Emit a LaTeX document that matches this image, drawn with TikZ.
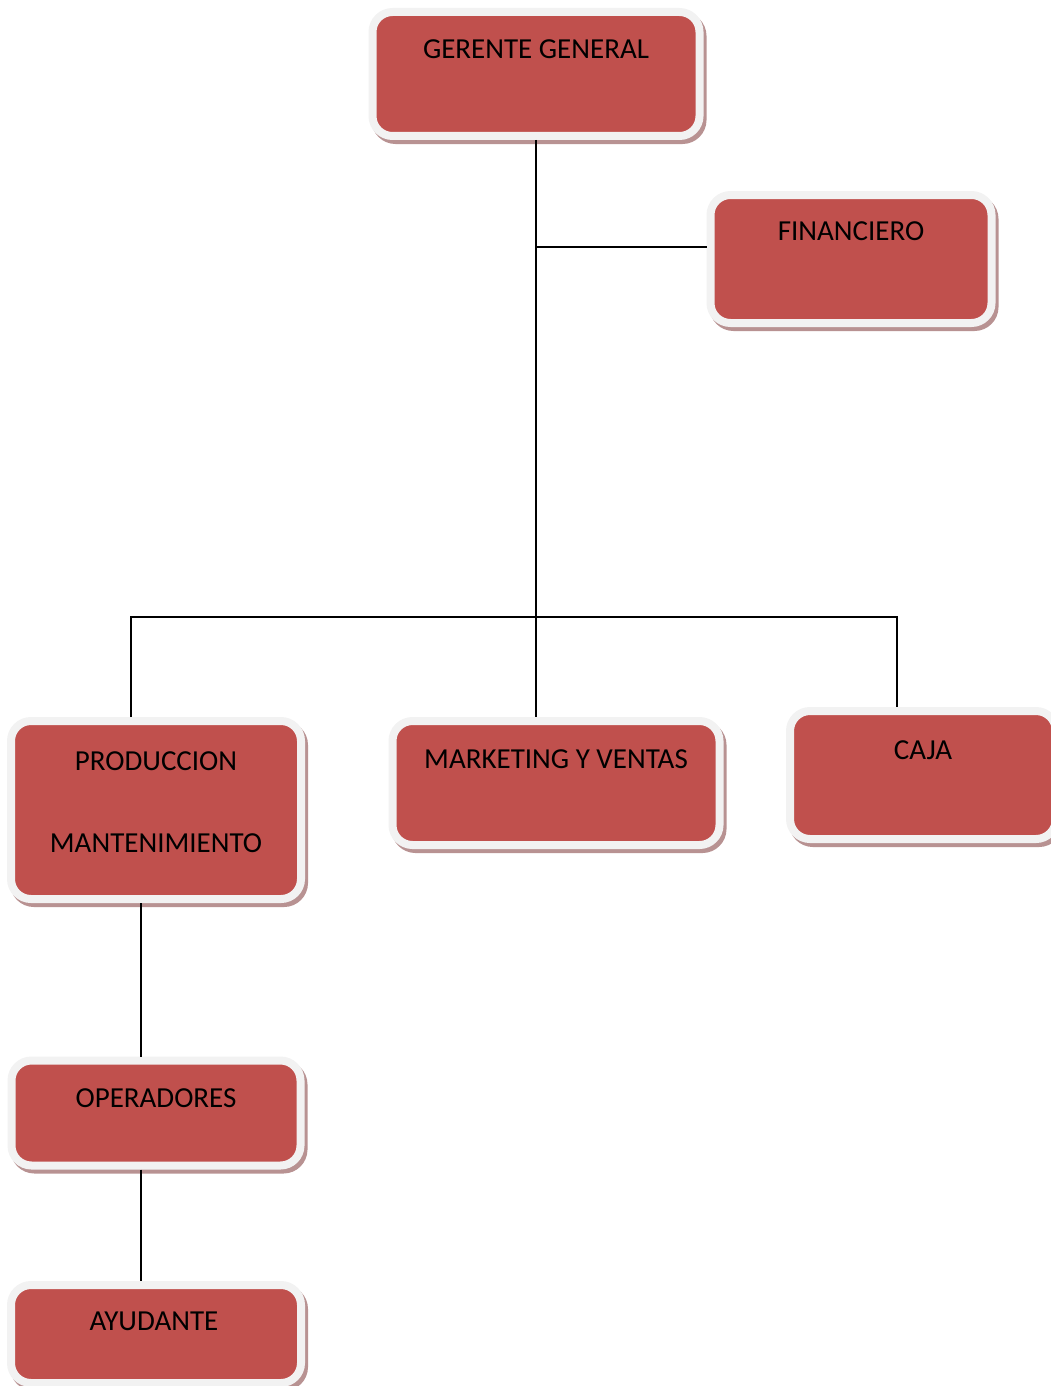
\documentclass[tikz,border=0pt]{standalone}
\usepackage{fontspec}
\setmainfont{Carlito}
\usepackage{tikz}
\usetikzlibrary{shadows}

\definecolor{boxred}{RGB}{192,80,77}
\definecolor{boxrim}{RGB}{242,242,242}
\definecolor{boxshade}{RGB}{184,146,146}

\tikzset{
  unit/.style={rectangle, rounded corners=20pt, fill=boxred, draw=boxrim, line width=8pt,
    drop shadow={shadow xshift=3pt, shadow yshift=-4pt, fill=boxshade, draw=boxshade, opacity=1}},
  caption/.style={inner sep=0pt, font=\fontsize{29}{35}\selectfont, text=black},
  wire/.style={line width=1.6pt, black}
}

\begin{document}
\begin{tikzpicture}[x=1pt, y=-1pt]
        \useasboundingbox (0,0) rectangle (1051,1386);

        \coordinate (G) at (536,74);
        \coordinate (F) at (851,259);
        \coordinate (P) at (156,810);
        \coordinate (M) at (556,783);
        \coordinate (C) at (923,775);
        \coordinate (O) at (156,1113);
        \coordinate (A) at (156,1334);
        \coordinate (hub) at (536,617);

        \node[unit, minimum width=327pt, minimum height=124pt] (gg) at (G) {};
        \node[unit, minimum width=281pt, minimum height=128pt] (fin) at (F) {};
        \node[unit, minimum width=290pt, minimum height=178pt] (prod) at (P) {};
        \node[unit, minimum width=327pt, minimum height=124pt] (mkt) at (M) {};
        \node[unit, minimum width=266pt, minimum height=128pt] (caja) at (C) {};
        \node[unit, minimum width=289pt, minimum height=105pt] (oper) at (O) {};
        \node[unit, minimum width=290pt, minimum height=98pt] (ayud) at (A) {};

        \node[caption] (gg-t) at ([yshift=-41pt]gg.north) {GERENTE GENERAL};
        \node[caption] (fin-t) at ([yshift=-40pt]fin.north) {FINANCIERO};
        \node[caption] (prod-t) at ([yshift=-44pt]prod.north) {PRODUCCION};
        \node[caption] (prod-u) at ([yshift=-126pt]prod.north) {MANTENIMIENTO};
        \node[caption] (mkt-t) at ([yshift=-42pt]mkt.north) {MARKETING Y VENTAS};
        \node[caption] (caja-t) at ([yshift=-43pt]caja.north) {CAJA};
        \node[caption] (oper-t) at ([yshift=-42pt]oper.north) {OPERADORES};
        \node[caption] (ayud-t) at ([xshift=-2pt,yshift=-40pt]ayud.north) {AYUDANTE};

        \draw[wire] (gg.south) -- (gg.south |- mkt.north);
        \draw[wire] ([yshift=12pt]fin.west) -- ([yshift=12pt]fin.west -| gg.south);
        \draw[wire] ([xshift=-25pt]prod.north) |- (hub) -| ([xshift=-26pt]caja.north);
        \draw[wire] ([xshift=-15pt]prod.south) -- ([xshift=-15pt]prod.south |- oper.north);
        \draw[wire] ([xshift=-15pt]oper.south) -- ([xshift=-15pt]oper.south |- ayud.north);
    \end{tikzpicture}
\end{document}
